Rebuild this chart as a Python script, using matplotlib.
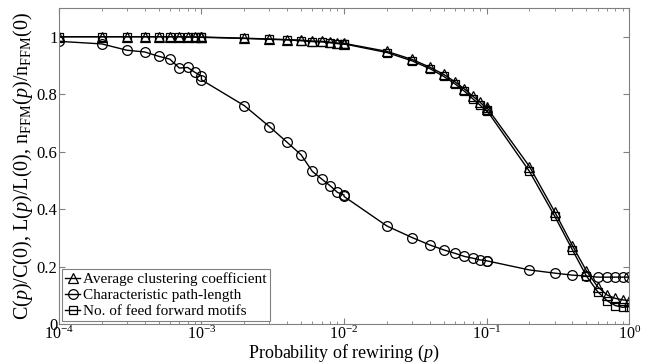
import matplotlib
matplotlib.use("Agg")
import matplotlib.pyplot as plt
from matplotlib.ticker import LogLocator, FixedLocator, NullFormatter

plt.rcParams["font.family"] = ["Liberation Serif", "DejaVu Serif"]
plt.rcParams["mathtext.fontset"] = "custom"
plt.rcParams["mathtext.rm"] = "Liberation Serif"
plt.rcParams["mathtext.it"] = "Liberation Serif:italic"

# rewiring probabilities, one run per decade (decade ends appear twice)
p = [1e-4, 2e-4, 3e-4, 4e-4, 5e-4, 6e-4, 7e-4, 8e-4, 9e-4, 1e-3,
     1e-3, 2e-3, 3e-3, 4e-3, 5e-3, 6e-3, 7e-3, 8e-3, 9e-3, 1e-2,
     1e-2, 2e-2, 3e-2, 4e-2, 5e-2, 6e-2, 7e-2, 8e-2, 9e-2, 1e-1,
     1e-1, 0.2, 0.3, 0.4, 0.5, 0.6, 0.7, 0.8, 0.9, 1.0]

clustering = [1.0, 1.0, 1.0, 1.0, 1.0, 1.0, 1.0, 0.999, 0.999, 0.999,
              0.999, 0.995, 0.992, 0.990, 0.988, 0.985, 0.984, 0.981, 0.978, 0.976,
              0.977, 0.949, 0.921, 0.894, 0.869, 0.843, 0.818, 0.793, 0.772, 0.750,
              0.755, 0.548, 0.391, 0.273, 0.186, 0.130, 0.101, 0.089, 0.084, 0.081]

path_length = [0.984, 0.975, 0.953, 0.947, 0.932, 0.922, 0.891, 0.893, 0.876, 0.864,
               0.850, 0.760, 0.687, 0.632, 0.589, 0.531, 0.504, 0.481, 0.458, 0.449,
               0.444, 0.341, 0.301, 0.275, 0.258, 0.246, 0.235, 0.229, 0.223, 0.220,
               0.220, 0.188, 0.177, 0.170, 0.167, 0.163, 0.163, 0.163, 0.163, 0.163]

ffm = [1.0, 1.0, 1.0, 1.0, 1.0, 1.0, 1.0, 0.999, 0.999, 0.998,
       0.998, 0.994, 0.991, 0.989, 0.986, 0.983, 0.982, 0.979, 0.976, 0.974,
       0.975, 0.945, 0.916, 0.889, 0.862, 0.836, 0.810, 0.784, 0.762, 0.741,
       0.745, 0.531, 0.376, 0.258, 0.168, 0.113, 0.081, 0.064, 0.058, 0.060]

labels = ["Average clustering coefficient", "Characteristic path-length",
          "No. of feed forward motifs"]

fig = plt.figure(figsize=(6.54, 3.64), dpi=100)
ax = fig.add_axes([0.090, 0.110, 0.872, 0.868])

mk = dict(color="black", lw=1.0, mfc="none", mec="black", mew=0.9, ms=7)
ax.plot(p, clustering, marker="^", label=labels[0], **mk)
ax.plot(p, path_length, marker="o", label=labels[1], **mk)
ax.plot(p, ffm, marker="s", label=labels[2], **dict(mk, ms=6))

ax.set_xscale("log")
ax.set_xlim(1e-4, 1)
ax.set_ylim(0, 1.1)
ax.yaxis.set_major_locator(FixedLocator([0, 0.2, 0.4, 0.6, 0.8, 1.0]))
ax.set_yticklabels(["0", "0.2", "0.4", "0.6", "0.8", "1"])
ax.xaxis.set_major_locator(LogLocator(base=10, numticks=10))
ax.xaxis.set_minor_locator(LogLocator(base=10, subs=range(2, 10), numticks=10))
ax.xaxis.set_minor_formatter(NullFormatter())

ax.tick_params(which="both", direction="in", top=True, right=True,
               color="#808080", labelsize=12)
ax.tick_params(axis="x", pad=1, labelsize=11.5)
ax.tick_params(axis="y", pad=1)
ax.tick_params(which="major", length=4)
ax.tick_params(which="minor", length=2)
for s in ax.spines.values():
    s.set_color("#808080")
    s.set_linewidth(0.8)

ax.set_xlabel(r"Probability of rewiring ($\it{p}$)", fontsize=13, labelpad=0)
ax.set_ylabel(r"C($\it{p}$)/C(0), L($\it{p}$)/L(0), n$_{\rm FFM}$($\it{p}$)/n$_{\rm FFM}$(0)",
              fontsize=14.5, labelpad=1)

leg = ax.legend(loc="lower left", fontsize=11, handlelength=1.0, handletextpad=0.2,
                borderaxespad=0.2, borderpad=0.2, labelspacing=0.15,
                fancybox=False, framealpha=1, edgecolor="#808080")
leg.get_frame().set_linewidth(0.8)

fig.savefig("out.png", dpi=100)
